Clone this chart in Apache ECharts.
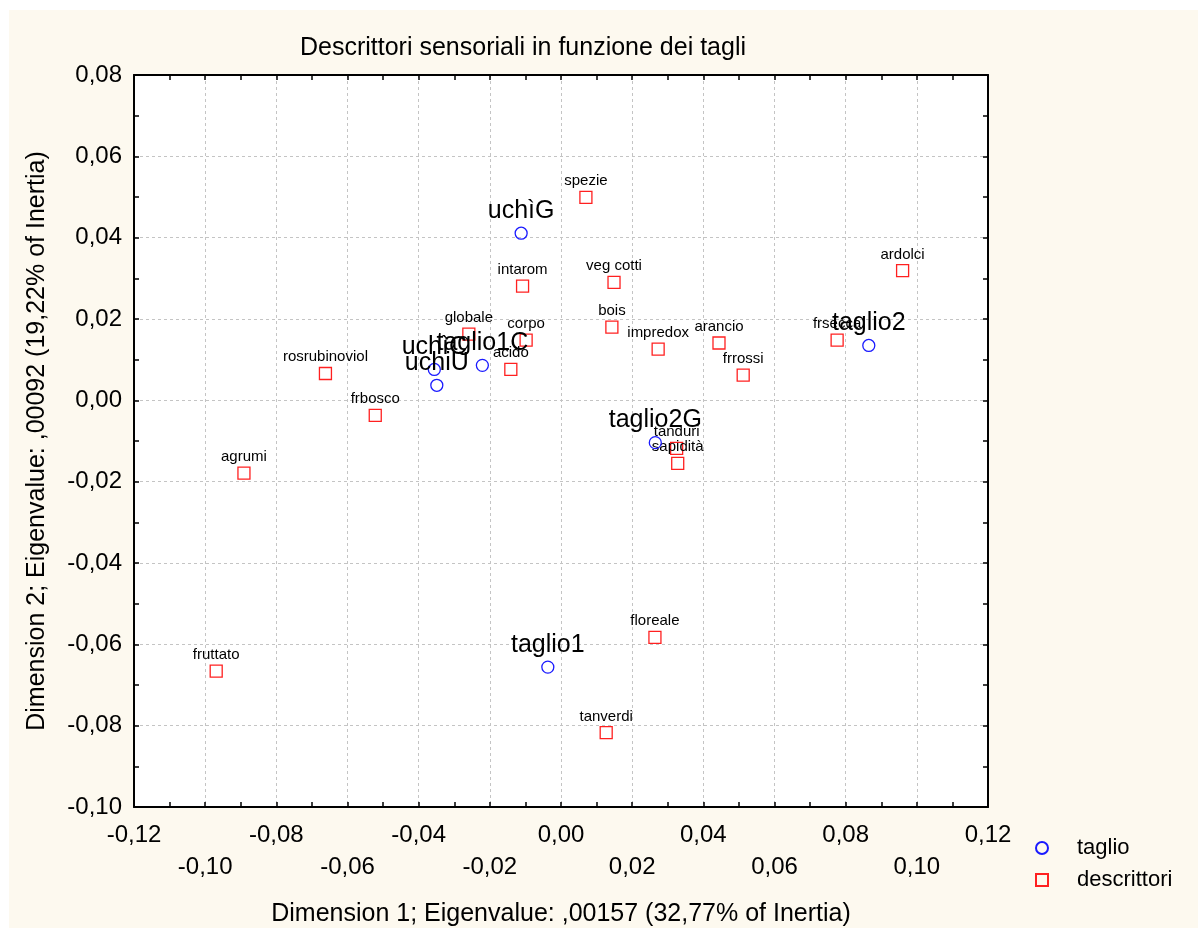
<!DOCTYPE html>
<html>
<head>
<meta charset="utf-8">
<script src="https://cdn.jsdelivr.net/npm/echarts@6/dist/echarts.min.js"></script>
<style>
  html, body { margin: 0; padding: 0; background: #ffffff; }
  #chart { width: 1198px; height: 928px; }
</style>
</head>
<body>
<div id="chart"></div>
<script>
// ---- data ----
const tagliNames = ['uchìG', 'taglio2', 'taglio1C', 'uchìC', 'uchiU', 'taglio1', 'taglio2G'];
const tagliX = [-0.0112, 0.0865, -0.0221, -0.0356, -0.0349, -0.0037, 0.0265];
const tagliY = [0.0411, 0.0135, 0.0086, 0.0076, 0.0037, -0.0656, -0.0104];

const descNames = ['spezie', 'intarom', 'veg cotti', 'globale', 'corpo', 'acido', 'bois', 'impredox',
  'arancio', 'frrossi', 'ardolci', 'frsecca', 'tanduri', 'sapidità', 'rosrubinoviol', 'frbosco',
  'agrumi', 'fruttato', 'tanverdi', 'floreale'];
const descX = [0.0070, -0.0108, 0.0149, -0.0259, -0.0098, -0.0141, 0.0143, 0.0273,
  0.0444, 0.0512, 0.0960, 0.0776, 0.0325, 0.0328, -0.0662, -0.0522,
  -0.0891, -0.0969, 0.0127, 0.0264];
const descY = [0.0499, 0.0281, 0.0290, 0.0163, 0.0148, 0.0076, 0.0180, 0.0126,
  0.0141, 0.0062, 0.0319, 0.0148, -0.0118, -0.0155, 0.0066, -0.0037,
  -0.0179, -0.0666, -0.0817, -0.0583];

const xMin = -0.12, xMax = 0.12, xStep = 0.02;
const yMin = -0.10, yMax = 0.08, yStep = 0.02;

const chartTitle = 'Descrittori sensoriali in funzione dei tagli';
const xTitle = 'Dimension 1; Eigenvalue: ,00157 (32,77% of Inertia)';
const yTitle = 'Dimension 2; Eigenvalue: ,00092 (19,22% of Inertia)';
const legendNames = ['taglio', 'descrittori'];

// ---- helpers ----
const FONT = "'Liberation Sans', Arial, Helvetica, sans-serif";
function fmt(v) {
  if (Math.abs(v) < 1e-9) v = 0;
  return v.toFixed(2).replace('.', ',');
}
const tagliData = tagliNames.map((n, i) => [tagliX[i], tagliY[i], n]);
const descData = descNames.map((n, i) => [descX[i], descY[i], n]);

const chart = echarts.init(document.getElementById('chart'), null, { renderer: 'canvas' });

const axisLineStyle = { color: '#000', width: 2 };
const gridLineStyle = { color: '#c4c4c4', type: [3, 3], width: 1 };
const tickStyle = { color: '#000', width: 1.5 };

chart.setOption({
  animation: false,
  backgroundColor: '#ffffff',
  graphic: [{
    type: 'rect', z: -10, silent: true,
    shape: { x: 9, y: 10, width: 1189, height: 918 },
    style: { fill: '#fdf9ef' }
  }],
  title: {
    text: chartTitle,
    left: 518, top: 31, textAlign: 'center',
    textStyle: { fontFamily: FONT, fontSize: 25, fontWeight: 'normal', color: '#000' }
  },
  legend: {
    data: legendNames,
    orient: 'vertical',
    left: 1030, top: 832,
    itemWidth: 12, itemHeight: 12, itemGap: 10,
    textStyle: { fontFamily: FONT, fontSize: 22, color: '#000', lineHeight: 22, padding: [0, 0, 0, 24] }
  },
  grid: {
    left: 134, right: 210, top: 75, bottom: 121,
    outerBoundsMode: 'none', containLabel: false,
    show: true, backgroundColor: '#ffffff', borderWidth: 0
  },
  xAxis: [{
    type: 'value', position: 'bottom',
    min: xMin, max: xMax, interval: xStep,
    name: xTitle, nameLocation: 'middle', nameGap: 95,
    nameTextStyle: { fontFamily: FONT, fontSize: 25, color: '#000' },
    axisLine: { show: true, onZero: false, lineStyle: axisLineStyle },
    axisTick: { show: true, inside: true, length: 5, lineStyle: tickStyle },
    minorTick: { show: true, splitNumber: 2, length: 5, lineStyle: tickStyle },
    splitLine: { show: true, lineStyle: gridLineStyle },
    axisLabel: {
      fontFamily: FONT, fontSize: 24, color: '#000', margin: 12, lineHeight: 32,
      formatter: function (v) {
        const idx = Math.round((v - xMin) / xStep);
        return (idx % 2 === 1 ? '\n' : '') + fmt(v);
      }
    }
  }, {
    type: 'value', position: 'top',
    min: xMin, max: xMax, interval: xStep,
    axisLine: { show: true, onZero: false, lineStyle: axisLineStyle },
    axisTick: { show: true, inside: true, length: 5, lineStyle: tickStyle },
    minorTick: { show: true, splitNumber: 2, length: 5, lineStyle: tickStyle },
    splitLine: { show: false },
    axisLabel: { show: false }
  }],
  yAxis: [{
    type: 'value', position: 'left',
    min: yMin, max: yMax, interval: yStep,
    name: yTitle, nameLocation: 'middle', nameGap: 84, nameRotate: 90,
    nameTextStyle: { fontFamily: FONT, fontSize: 25, color: '#000' },
    axisLine: { show: true, onZero: false, lineStyle: axisLineStyle },
    axisTick: { show: true, inside: true, length: 5, lineStyle: tickStyle },
    minorTick: { show: true, splitNumber: 2, length: 5, lineStyle: tickStyle },
    splitLine: { show: true, lineStyle: gridLineStyle },
    axisLabel: { fontFamily: FONT, fontSize: 24, color: '#000', margin: 12, formatter: fmt }
  }, {
    type: 'value', position: 'right',
    min: yMin, max: yMax, interval: yStep,
    axisLine: { show: true, onZero: false, lineStyle: axisLineStyle },
    axisTick: { show: true, inside: true, length: 5, lineStyle: tickStyle },
    minorTick: { show: true, splitNumber: 2, length: 5, lineStyle: tickStyle },
    splitLine: { show: false },
    axisLabel: { show: false }
  }],
  series: [{
    name: 'taglio', type: 'scatter', xAxisIndex: 0, yAxisIndex: 0,
    symbol: 'circle', symbolSize: 12,
    itemStyle: { color: 'rgba(0,0,0,0)', borderColor: '#1a1aff', borderWidth: 1.3, opacity: 1 },
    label: {
      show: true, position: 'top', distance: 3,
      fontFamily: FONT, fontSize: 25, color: '#000',
      formatter: p => p.data[2]
    },
    emphasis: { disabled: true },
    data: tagliData, z: 3
  }, {
    name: 'descrittori', type: 'scatter', xAxisIndex: 0, yAxisIndex: 0,
    symbol: 'rect', symbolSize: 12,
    itemStyle: { color: 'rgba(0,0,0,0)', borderColor: '#ff2020', borderWidth: 1.3, opacity: 1 },
    label: {
      show: true, position: 'top', distance: 2,
      fontFamily: FONT, fontSize: 15, color: '#000',
      formatter: p => p.data[2]
    },
    emphasis: { disabled: true },
    data: descData, z: 2
  }]
});
</script>
</body>
</html>
